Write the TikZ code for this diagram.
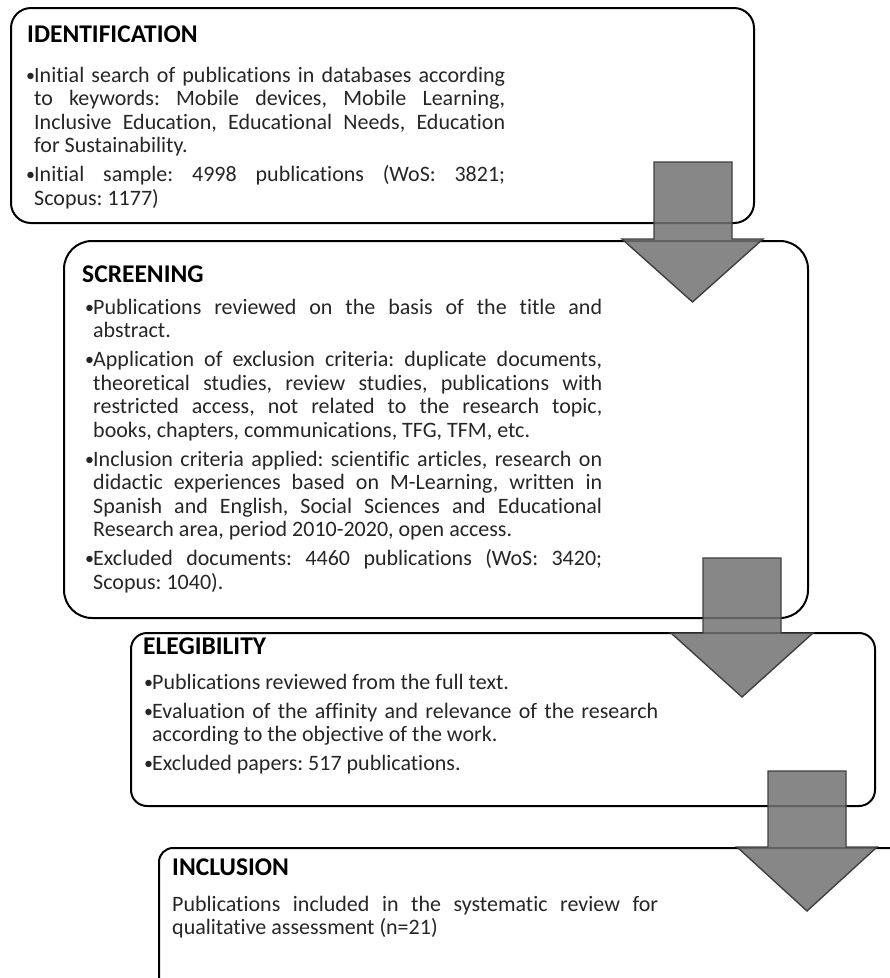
\documentclass[tikz,border=0pt]{standalone}
\usepackage{fontspec}
\setmainfont{Carlito}[Ligatures=CommonOff]
\newlength\bulw
\setlength\bulw{8pt}
\newlength\jw
\newcommand\wsp{\frenchspacing\spaceskip=4.97pt plus 40pt minus 1pt\relax}
\newcommand\bul{\makebox[\bulw][l]{\raisebox{1pt}{\fontsize{18pt}{18pt}\selectfont\textbullet}}}
\newcommand\BJ[1]{\noindent\bul\hbox to \jw{\wsp #1}\par}
\newcommand\BE[1]{\noindent\bul#1\par}
\newcommand\LJ[1]{\noindent\hspace*{\bulw}\hbox to \jw{\wsp #1}\par}
\newcommand\LE[1]{\noindent\hspace*{\bulw}#1\par}
\newcommand\PJ[1]{\noindent\hbox to \jw{\wsp #1}\par}
\newcommand\PE[1]{\noindent #1\par}
\newcommand\igap{\vspace{5.5pt}}
\tikzset{
  stagebox/.style={draw=black, line width=2pt, fill=white, anchor=north west, inner sep=0pt},
  stagetitle/.style={anchor=base west, inner sep=0pt, font=\fontsize{25.5pt}{28pt}\selectfont\bfseries, text=black},
  stagebody/.style={anchor=base west, inner sep=0pt, font={\fontsize{22pt}{23.5pt}\selectfont}, text=black!85},
  blockarrow/.style={fill=black!55, fill opacity=0.85, draw=black!75, line width=1.4pt, line join=miter}
}
\begin{document}
\begin{tikzpicture}[x=1pt,y=-1pt]
\useasboundingbox (0,0) rectangle (890,978);
\clip (0,0) rectangle (890,978);

% boxes
\node[stagebox, rounded corners=20pt, minimum width=743pt, minimum height=215pt] (ident) at (10,7) {};
\node[stagebox, rounded corners=28pt, minimum width=744pt, minimum height=377pt] (screen) at (63,240) {};
\node[stagebox, rounded corners=16pt, minimum width=744pt, minimum height=173pt] (elig) at (130,632) {};
\node[stagebox, rounded corners=14pt, minimum width=744pt, minimum height=173pt] (incl) at (158,847) {};

% titles
\node[stagetitle] (t1) at (27,42) {IDENTIFICATION};
\node[stagetitle] (t2) at (82,282) {SCREENING};
\node[stagetitle] (t3) at (143,654) {ELEGIBILITY};
\node[stagetitle] (t4) at (172,875) {INCLUSION};

% bodies
\node[stagebody, text width=479pt] (b1) at (26,82) {%
\wsp\setlength\jw{471pt}%
\BJ{Initial search of publications in databases according}%
\LJ{to keywords: Mobile devices, Mobile Learning,}%
\LJ{Inclusive Education, Educational Needs, Education}%
\LE{for Sustainability.}%
\igap
\BJ{Initial sample: 4998 publications (WoS: 3821;}%
\LE{Scopus: 1177)}};

\node[stagebody, text width=517pt] (b2) at (85,314) {%
\wsp\setlength\jw{509pt}%
\BJ{Publications reviewed on the basis of the title and}%
\LE{abstract.}%
\igap
\BJ{Application of exclusion criteria: duplicate documents,}%
\LJ{theoretical studies, review studies, publications with}%
\LJ{restricted access, not related to the research topic,}%
\LE{books, chapters, communications, TFG, TFM, etc.}%
\igap
\BJ{Inclusion criteria applied: scientific articles, research on}%
\LJ{didactic experiences based on M-Learning, written in}%
\LJ{Spanish and English, Social Sciences and Educational}%
\LE{Research area, period 2010-2020, open access.}%
\igap
\BJ{Excluded documents: 4460 publications (WoS: 3420;}%
\LE{Scopus: 1040).}};

\node[stagebody, text width=514pt] (b3) at (144,689) {%
\wsp\setlength\jw{506pt}%
\BE{Publications reviewed from the full text.}%
\igap
\BJ{Evaluation of the affinity and relevance of the research}%
\LE{according to the objective of the work.}%
\igap
\BE{Excluded papers: 517 publications.}};

\node[stagebody, text width=486pt] (b4) at (172,911) {%
\wsp\setlength\jw{486pt}%
\PJ{Publications included in the systematic review for}%
\PE{qualitative assessment (n=21)}};

% block arrows
\path[blockarrow] (654,162) -- (732,162) -- (732,239) -- (763,239) -- (692.5,302) -- (622,239) -- (654,239) -- cycle;
\path[blockarrow] (703,558) -- (781,558) -- (781,633) -- (813,633) -- (742,697) -- (671,633) -- (703,633) -- cycle;
\path[blockarrow] (768,771) -- (846,771) -- (846,847) -- (877,847) -- (807,911) -- (737,847) -- (768,847) -- cycle;
\end{tikzpicture}
\end{document}
